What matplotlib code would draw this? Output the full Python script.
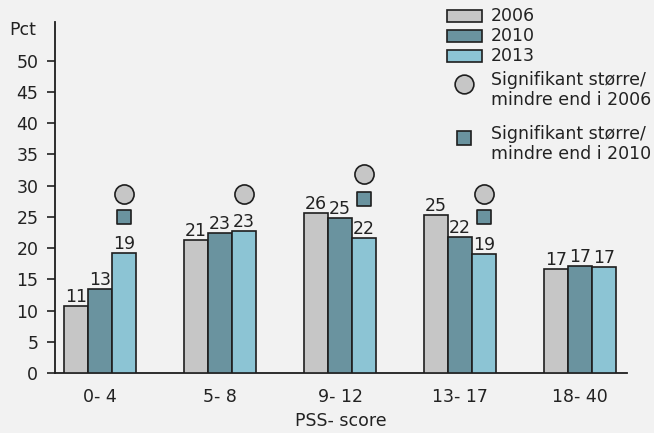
import matplotlib
matplotlib.use("Agg")
import matplotlib.pyplot as plt
from matplotlib.patches import Rectangle
from matplotlib.lines import Line2D
import numpy as np

categories = ["0- 4", "5- 8", "9- 12", "13- 17", "18- 40"]
years = ["2006", "2010", "2013"]
v2006 = [10.8, 21.3, 25.6, 25.3, 16.7]
v2010 = [13.4, 22.4, 24.8, 21.8, 17.1]
v2013 = [19.2, 22.7, 21.6, 19.0, 17.0]
labels2006 = ["11", "21", "26", "25", "17"]
labels2010 = ["13", "23", "25", "22", "17"]
labels2013 = ["19", "23", "22", "19", "17"]
# significance markers (placed over the 2013 bar), y positions in Pct
sig2006_idx = [0, 1, 2, 3]
sig2006_y = [28.7, 28.7, 31.9, 28.7]
sig2010_idx = [0, 2, 3]
sig2010_y = [25.0, 27.9, 25.0]

colors = ["#c6c6c6", "#6a939f", "#8cc4d4"]
edge = "#1e1e1e"
bg = "#f2f2f2"
txt = "#222222"
fs = 12.5

fig = plt.figure(figsize=(6.54, 4.33), dpi=100, facecolor=bg)
W, H = 654, 433
ax = fig.add_axes([55 / W, (H - 373) / H, (627 - 55) / W, (373 - 22) / H])
ax.set_facecolor(bg)

x = np.arange(len(categories))
bw = 0.2
series = [v2006, v2010, v2013]
labs = [labels2006, labels2010, labels2013]
for i, (vals, lab) in enumerate(zip(series, labs)):
    bars = ax.bar(x + (i - 1) * bw, vals, bw, color=colors[i], edgecolor=edge, linewidth=1.2, zorder=3)
    ax.bar_label(bars, labels=lab, padding=0, fontsize=fs, color=txt)

ax.scatter(x[sig2006_idx] + bw, sig2006_y, s=190, marker="o", color=colors[0], edgecolor=edge, linewidth=1.2, zorder=4)
ax.scatter(x[sig2010_idx] + bw, sig2010_y, s=110, marker="s", color=colors[1], edgecolor=edge, linewidth=1.2, zorder=4)

ax.set_xlim(-0.375, 4.39)
ax.set_ylim(0, 56.2)
ax.set_yticks(np.arange(0, 51, 5))
ax.set_xticks(x)
ax.set_xticklabels(categories)
ax.tick_params(axis="x", length=0, pad=11, labelsize=fs, colors=txt)
ax.tick_params(axis="y", length=6, width=1.2, pad=6, labelsize=fs, colors=txt)
for s in ["top", "right"]:
    ax.spines[s].set_visible(False)
for s in ["left", "bottom"]:
    ax.spines[s].set_color(edge)
    ax.spines[s].set_linewidth(1.3)

ax.set_xlabel("PSS- score", fontsize=fs, color=txt, labelpad=4)
fig.text(9 / W, 1 - 30 / H, "Pct", fontsize=fs, color=txt, va="center", ha="left")

# legend, drawn manually
def fx(px):
    return px / W

def fy(py):
    return 1 - py / H

for i, (yr, py) in enumerate(zip(years, [16, 36, 56])):
    fig.add_artist(Rectangle((fx(447), fy(py + 6)), fx(482) - fx(447), fy(py - 6) - fy(py + 6),
                             transform=fig.transFigure, facecolor=colors[i], edgecolor=edge, linewidth=1.2))
    fig.text(fx(491), fy(py), yr, fontsize=fs, color=txt, va="center", ha="left")

fig.add_artist(Line2D([fx(464)], [fy(84)], marker="o", markersize=13.5, markerfacecolor=colors[0],
                      markeredgecolor=edge, markeredgewidth=1.2, transform=fig.transFigure))
fig.add_artist(Line2D([fx(464)], [fy(138)], marker="s", markersize=10, markerfacecolor=colors[1],
                      markeredgecolor=edge, markeredgewidth=1.2, transform=fig.transFigure))
fig.text(fx(491), fy(90), "Signifikant større/\nmindre end i 2006", fontsize=fs, color=txt,
         va="center", ha="left", linespacing=1.15)
fig.text(fx(491), fy(144), "Signifikant større/\nmindre end i 2010", fontsize=fs, color=txt,
         va="center", ha="left", linespacing=1.15)

fig.savefig("out.png", dpi=100, facecolor=bg)
